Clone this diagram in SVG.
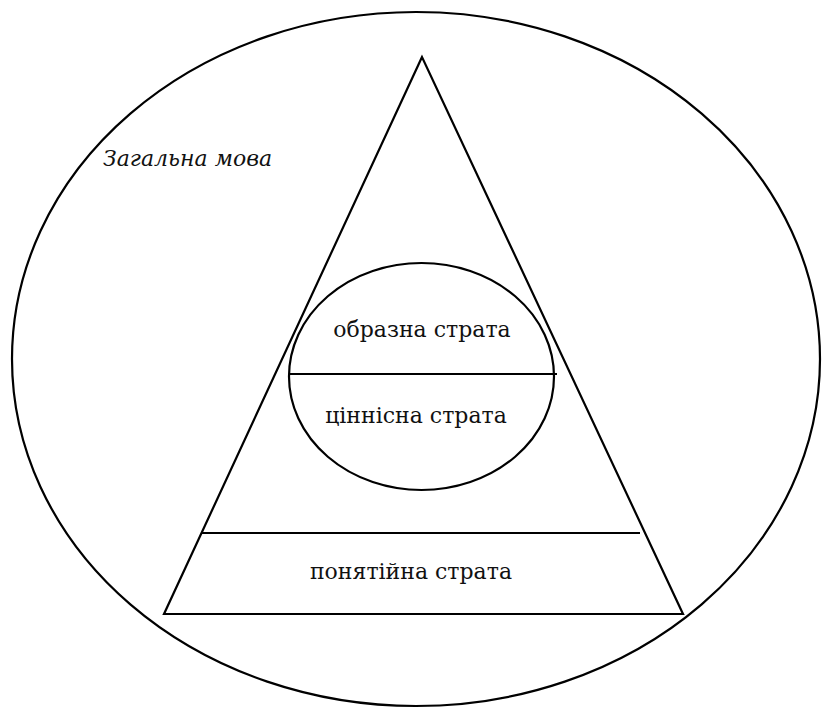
<svg xmlns="http://www.w3.org/2000/svg" width="822" height="710" viewBox="0 0 822 710">
<style>
.ln{fill:none;stroke:#000;stroke-width:2.2}
.t{font-family:"DejaVu Serif",serif;font-size:22px;fill:#111;text-anchor:middle}
.ti{font-family:"DejaVu Serif",serif;font-size:22px;font-style:italic;fill:#111}
</style>
<rect width="822" height="710" fill="#fff"/>
<g id="general">
<ellipse class="ln" cx="416" cy="359" rx="404" ry="347"/>
<text class="ti" x="103" y="166">Загальна мова</text>
</g>
<g id="pyramid">
<polygon class="ln" points="422,57 164,614 683,614"/>
</g>
<g id="conceptual">
<line class="ln" x1="202" y1="533" x2="640" y2="533"/>
<text class="t" x="411" y="579">понятійна страта</text>
</g>
<g id="inner">
<ellipse class="ln" cx="421.5" cy="376.5" rx="132.5" ry="113.5"/>
<line class="ln" x1="290" y1="374" x2="557" y2="374"/>
</g>
<g id="figurative">
<text class="t" x="422" y="337">образна страта</text>
</g>
<g id="value">
<text class="t" x="416" y="423">ціннісна страта</text>
</g>
</svg>
